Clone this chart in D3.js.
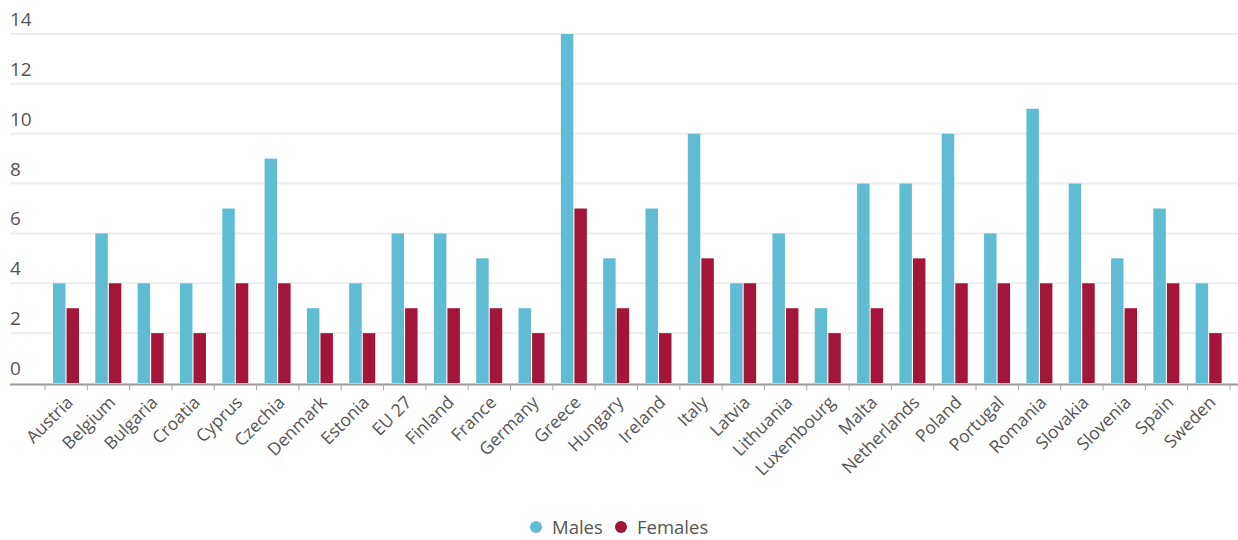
<!DOCTYPE html>
<html>
<head>
<meta charset="utf-8">
<script src="https://cdn.jsdelivr.net/npm/d3@7"></script>
<style>
  html, body { margin: 0; padding: 0; background: #fff; }
  svg { display: block; font-family: "Open Sans", Roboto, "DejaVu Sans", sans-serif; }
</style>
</head>
<body>
<svg id="chart" width="1238" height="540"></svg>
<script>
// Categories and series values
const countries = ["Austria","Belgium","Bulgaria","Croatia","Cyprus","Czechia","Denmark","Estonia","EU 27","Finland","France","Germany","Greece","Hungary","Ireland","Italy","Latvia","Lithuania","Luxembourg","Malta","Netherlands","Poland","Portugal","Romania","Slovakia","Slovenia","Spain","Sweden"];
const males   = [4,6,4,4,7,9,3,4,6,6,5,3,14,5,7,10,4,6,3,8,8,10,6,11,8,5,7,4];
const females = [3,4,2,2,4,4,2,2,3,3,3,2,7,3,2,5,4,3,2,3,5,4,4,4,4,3,4,2];
const seriesNames = ["Males","Females"];
const seriesColors = ["#5fbcd3","#a3163a"];
const yTicks = [0,2,4,6,8,10,12,14];

const svg = d3.select("#chart");
const plotLeft = 45, plotRight = 1230, gridLeft = 10, gridRight = 1238;

const y = d3.scaleLinear().domain([0, 14]).range([383, 34]);
const x0 = d3.scaleBand().domain(countries).range([plotLeft, plotRight]);
const x1 = d3.scaleBand().domain(seriesNames).range([8, 34]).paddingInner(0.08);

// Horizontal grid lines with labels sitting above them
const grid = svg.append("g");
grid.selectAll("line").data(yTicks.filter(t => t > 0)).join("line")
  .attr("x1", gridLeft).attr("x2", gridRight)
  .attr("y1", d => y(d)).attr("y2", d => y(d))
  .attr("stroke", "#eeeeee").attr("stroke-width", 2);
grid.selectAll("text").data(yTicks).join("text")
  .attr("x", 10).attr("y", d => y(d) - 8)
  .attr("font-size", 19).attr("fill", "#555")
  .text(d => d);

// Grouped bars
const rows = countries.map((c, i) => ({ country: c, values: [males[i], females[i]] }));
const groups = svg.append("g").selectAll("g").data(rows).join("g")
  .attr("transform", d => `translate(${x0(d.country)},0)`);
groups.selectAll("rect").data(d => d.values.map((v, k) => ({ key: seriesNames[k], v, k })))
  .join("rect")
  .attr("x", d => x1(d.key))
  .attr("width", x1.bandwidth())
  .attr("y", d => y(d.v))
  .attr("height", d => y(0) - y(d.v))
  .attr("fill", d => seriesColors[d.k]);

// X axis: baseline, tick marks between categories, rotated labels
const axisY = 384.5;
svg.append("line")
  .attr("x1", gridLeft).attr("x2", gridRight)
  .attr("y1", axisY).attr("y2", axisY)
  .attr("stroke", "#999").attr("stroke-width", 2);
const tickPos = countries.map(c => x0(c)).concat([plotRight]);
svg.append("g").selectAll("line").data(tickPos).join("line")
  .attr("x1", d => d).attr("x2", d => d)
  .attr("y1", axisY).attr("y2", axisY + 6)
  .attr("stroke", "#aaa").attr("stroke-width", 1);

const xAxis = d3.axisBottom(x0).tickSize(0).tickPadding(0);
const gx = svg.append("g").attr("transform", `translate(0,${axisY})`).call(xAxis);
gx.select(".domain").remove();
gx.selectAll("text")
  .attr("font-size", 17.5)
  .attr("fill", "#555")
  .attr("font-family", "'Open Sans', sans-serif")
  .attr("text-anchor", "end")
  .attr("dy", 0)
  .attr("transform", "translate(8,19) rotate(-45)");

// Legend
const legend = svg.append("g").attr("transform", "translate(536,527)");
const items = [{ name: "Males", x: 0 }, { name: "Females", x: 85 }];
items.forEach((it, k) => {
  legend.append("circle").attr("cx", it.x).attr("cy", 0).attr("r", 6).attr("fill", seriesColors[k]);
  legend.append("text").attr("x", it.x + 16).attr("y", 6.5).attr("font-size", 18.5).attr("fill", "#555").text(it.name);
});
</script>
</body>
</html>
